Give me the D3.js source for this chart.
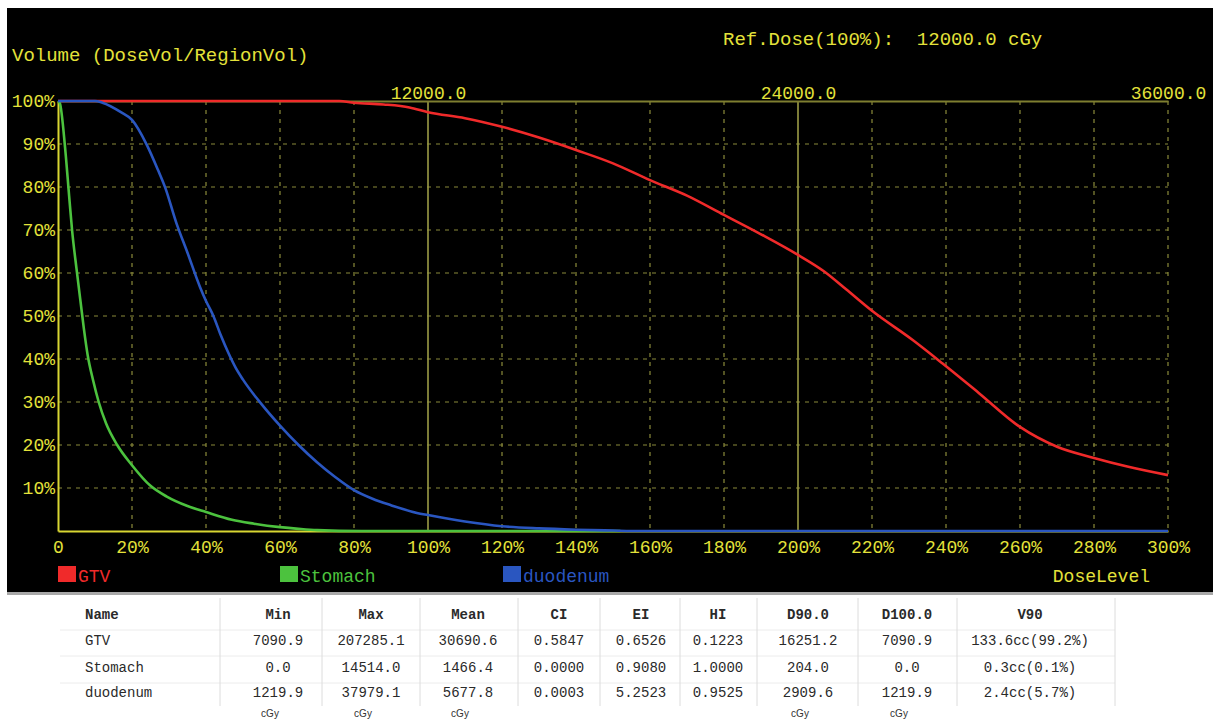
<!DOCTYPE html>
<html>
<head>
<meta charset="utf-8">
<script src="https://cdn.jsdelivr.net/npm/d3@7"></script>
<style>
  body { margin: 0; background: #fff; }
  svg { display: block; }
</style>
</head>
<body>
<div id="graph"></div>
<script>
// dose as % of ref dose, volume as % of region volume
var gtvDose = [0, 76, 80, 88, 95, 100, 110, 120, 130, 140, 150, 160, 170, 180, 190, 200, 207, 213, 220, 231, 239, 249, 260, 270, 280, 289, 300];
var gtvVol = [100, 100, 99.6, 99.2, 98.5, 97.4, 96, 94, 91.5, 88.6, 85.5, 81.6, 78, 73.5, 69, 64.2, 60.4, 56.2, 51.2, 44.4, 39, 32, 24.2, 19.6, 17, 15, 13];

var stomachDose = [0, 0.5, 1.9, 3, 3.8, 5, 6, 7, 8, 9.5, 11, 13, 16, 20, 25, 29.4, 35, 40, 47, 53, 60, 65, 70, 82, 152];
var stomachVol = [100, 99.5, 89.3, 78, 70, 61, 54, 47, 41, 35, 30, 25, 20, 15.3, 10.5, 8, 5.8, 4.4, 2.6, 1.7, 0.9, 0.5, 0.2, 0, 0];

var duoDose = [0, 10, 12, 17, 20, 24, 27, 29, 32, 35, 38.4, 40, 42, 44, 46, 48, 50, 55, 60, 65, 70, 75, 80, 85, 90, 97, 100, 110, 120, 130, 140, 150, 155, 300];
var duoVol = [100, 100, 99.6, 97.4, 95.6, 89.8, 84, 79.8, 71.6, 64.7, 56.7, 53.5, 50, 45.5, 41.5, 38, 35.2, 29.5, 24.5, 20, 16, 12.5, 9.5, 7.5, 6, 4.2, 3.7, 2.2, 1.1, 0.6, 0.3, 0.1, 0, 0];

var structNames = ['GTV', 'Stomach', 'duodenum'];
var structColors = ['#f02a2a', '#4cc23e', '#2a56c0'];

var doseTicks = [0, 20, 40, 60, 80, 100, 120, 140, 160, 180, 200, 220, 240, 260, 280, 300];
var volTicks = [10, 20, 30, 40, 50, 60, 70, 80, 90, 100];
var cgyTicks = [12000, 24000, 36000];

var tableHead = ['Name', 'Min', 'Max', 'Mean', 'CI', 'EI', 'HI', 'D90.0', 'D100.0', 'V90'];
var tableRows = [
  ['GTV', '7090.9', '207285.1', '30690.6', '0.5847', '0.6526', '0.1223', '16251.2', '7090.9', '133.6cc(99.2%)'],
  ['Stomach', '0.0', '14514.0', '1466.4', '0.0000', '0.9080', '1.0000', '204.0', '0.0', '0.3cc(0.1%)'],
  ['duodenum', '1219.9', '37979.1', '5677.8', '0.0003', '5.2523', '0.9525', '2909.6', '1219.9', '2.4cc(5.7%)']
];
var unitRow = ['', 'cGy', 'cGy', 'cGy', '', '', '', 'cGy', 'cGy', ''];

var W = 1213, H = 720;
var YEL = '#e4e23a';
var GRID = '#8a8a3a';
var MONO = "'Liberation Mono', 'DejaVu Sans Mono', monospace";

var x = d3.scaleLinear().domain([0, 300]).range([58, 1168]);
var xc = d3.scaleLinear().domain([0, 36000]).range([58, 1168]);
var y = d3.scaleLinear().domain([0, 100]).range([531, 101]);

var svg = d3.select("#graph").append("svg")
    .attr("width", W)
    .attr("height", H);

// black chart panel + grey separator
svg.append("rect").attr("x", 0).attr("y", 0).attr("width", W).attr("height", H).attr("fill", "#fff");
svg.append("rect").attr("x", 7).attr("y", 8).attr("width", W - 7).attr("height", 584).attr("fill", "#000");
svg.append("rect").attr("x", 7).attr("y", 592).attr("width", W - 7).attr("height", 3).attr("fill", "#a8a8a8");

// grid
var grid = svg.append("g");
volTicks.filter(d => d < 100).forEach(d => {
    grid.append("line")
        .attr("x1", x(0)).attr("x2", x(300))
        .attr("y1", y(d)).attr("y2", y(d))
        .attr("stroke", GRID).attr("stroke-width", 1.2)
        .attr("stroke-dasharray", "4,5");
});
doseTicks.filter(d => d > 0).forEach(d => {
    var solid = (d == 100 || d == 200);
    grid.append("line")
        .attr("x1", x(d)).attr("x2", x(d))
        .attr("y1", y(100)).attr("y2", y(0))
        .attr("stroke", solid ? '#9c9c46' : GRID).attr("stroke-width", solid ? 1.6 : 1.2)
        .attr("stroke-dasharray", solid ? null : "4,5");
});

// top cGy axis
var topAxis = svg.append("g")
    .attr("transform", "translate(0," + y(100) + ")")
    .call(d3.axisTop(xc).tickValues(cgyTicks).tickSize(0).tickSizeOuter(0).tickPadding(2).tickFormat(d => d3.format(".1f")(d)));
topAxis.select(".domain").attr("stroke", "#7e7e30").attr("stroke-width", 2);

// left volume axis
var leftAxis = svg.append("g")
    .attr("transform", "translate(" + x(0) + ",0)")
    .call(d3.axisLeft(y).tickValues(volTicks).tickSize(0).tickSizeOuter(0).tickPadding(3).tickFormat(d => d + "%"));
leftAxis.select(".domain").attr("stroke", "#d8d632").attr("stroke-width", 2);

// bottom dose level axis
var botAxis = svg.append("g")
    .attr("transform", "translate(0," + y(0) + ")")
    .call(d3.axisBottom(x).tickValues(doseTicks).tickSize(0).tickSizeOuter(0).tickPadding(9).tickFormat(d => d == 0 ? "0" : d + "%"));
botAxis.select(".domain").attr("stroke", "#d8d632").attr("stroke-width", 2);

svg.selectAll(".tick text")
    .attr("fill", YEL)
    .style("font-family", MONO)
    .style("font-size", "18px");

// curves
var line = d3.line().curve(d3.curveMonotoneX).x(d => x(d[0])).y(d => y(d[1]));
var series = [
    d3.zip(gtvDose, gtvVol),
    d3.zip(stomachDose, stomachVol),
    d3.zip(duoDose, duoVol)
];
series.forEach((s, i) => {
    svg.append("path")
        .datum(s)
        .attr("d", line)
        .attr("fill", "none")
        .attr("stroke", structColors[i])
        .attr("stroke-width", 2.6)
        .attr("stroke-linejoin", "round");
});

// titles
svg.append("text")
    .attr("x", 12).attr("y", 61)
    .attr("fill", YEL)
    .style("font-family", MONO).style("font-size", "19px")
    .text("Volume (DoseVol/RegionVol)");

svg.append("text")
    .attr("x", 723).attr("y", 45)
    .attr("fill", YEL)
    .attr("xml:space", "preserve")
    .style("font-family", MONO).style("font-size", "19px")
    .style("white-space", "pre")
    .text("Ref.Dose(100%):  12000.0 cGy");

svg.append("text")
    .attr("x", 1150).attr("y", 582)
    .attr("text-anchor", "end")
    .attr("fill", YEL)
    .style("font-family", MONO).style("font-size", "18px")
    .text("DoseLevel");

// legend
var legX = [58, 280, 503];
structNames.forEach((n, i) => {
    svg.append("rect")
        .attr("x", legX[i]).attr("y", 566)
        .attr("width", 18).attr("height", 16)
        .attr("fill", structColors[i]);
    svg.append("text")
        .attr("x", legX[i] + 20).attr("y", 582)
        .attr("fill", structColors[i])
        .style("font-family", MONO).style("font-size", "18px")
        .text(n);
});

// stats table
var colX = [85, 278, 371, 468, 559, 641, 718, 808, 907, 1030];
var sepX = [220, 322, 420, 518, 600, 680, 757, 858, 957, 1115];
var rowY = [619, 645, 672, 697];

var tbl = svg.append("g");
[630, 656, 683].forEach(yy => {
    tbl.append("line")
        .attr("x1", 60).attr("x2", 1115)
        .attr("y1", yy).attr("y2", yy)
        .attr("stroke", "#ececec").attr("stroke-width", 1);
});
sepX.forEach(xx => {
    tbl.append("line")
        .attr("x1", xx).attr("x2", xx)
        .attr("y1", 598).attr("y2", 706)
        .attr("stroke", "#dcdcdc").attr("stroke-width", 1);
});

[tableHead].concat(tableRows).forEach((row, r) => {
    row.forEach((v, c) => {
        tbl.append("text")
            .attr("x", colX[c]).attr("y", rowY[r])
            .attr("text-anchor", c == 0 ? "start" : "middle")
            .attr("fill", "#2a2a2a")
            .style("font-family", MONO).style("font-size", "14px")
            .style("font-weight", r == 0 ? "bold" : "normal")
            .text(v);
    });
});
unitRow.forEach((v, c) => {
    if (!v) return;
    tbl.append("text")
        .attr("x", colX[c] - 8).attr("y", 717)
        .attr("text-anchor", "middle")
        .attr("fill", "#333")
        .style("font-family", "'Liberation Sans', Arial, sans-serif").style("font-size", "10px")
        .text(v);
});
</script>
</body>
</html>
